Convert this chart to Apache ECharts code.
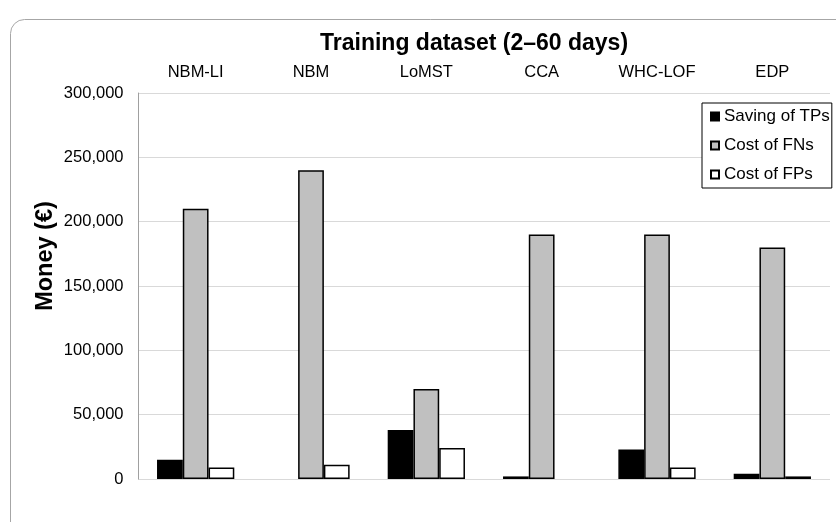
<!DOCTYPE html>
<html>
<head>
<meta charset="utf-8">
<script src="https://cdn.jsdelivr.net/npm/echarts@6/dist/echarts.min.js"></script>
<style>
html,body{margin:0;padding:0;background:#fff;}
#c{width:836px;height:522px;}
</style>
</head>
<body>
<div id="c"></div>
<script>
var categories = ['NBM-LI', 'NBM', 'LoMST', 'CCA', 'WHC-LOF', 'EDP'];
var savingTPs = [15000, 0, 38000, 2000, 23000, 4000];
var costFNs = [210000, 240000, 70000, 190000, 190000, 180000];
var costFPs = [9000, 11000, 24000, 0, 9000, 2000];
var yTicks = [0, 50000, 100000, 150000, 200000, 250000, 300000];

var chart = echarts.init(document.getElementById('c'));
var font = 'Liberation Sans, Arial, sans-serif';
function fmt(v){ return v.toString().replace(/\B(?=(\d{3})+(?!\d))/g, ','); }
function bar(name, data, color){
  return {
    name: name, type: 'bar',
    data: data.map(function(v){ return v === 0 ? {value: 0, itemStyle: {borderWidth: 0}} : v; }),
    barGap: '0%', barCategoryGap: '33%',
    itemStyle: {color: color, borderColor: '#000', borderWidth: 1.5},
    emphasis: {disabled: true}
  };
}
chart.setOption({
  animation: false,
  textStyle: {fontFamily: font},
  graphic: [{
    type: 'rect', left: 8, top: 17,
    shape: {width: 850, height: 530, r: 14},
    style: {fill: 'none', stroke: '#a6a6a6', lineWidth: 1}, silent: true, z: -1
  }],
  title: {
    text: 'Training dataset (2\u201360 days)',
    left: 315, top: 27,
    textStyle: {fontSize: 23, fontWeight: 'bold', color: '#000', fontFamily: font}
  },
  legend: {
    orient: 'vertical', left: 702, top: 103,
    backgroundColor: '#fff',
    borderColor: '#000', borderWidth: 1,
    padding: [5, 2, 5, 8],
    itemWidth: 8, itemHeight: 8, itemGap: 12,
    icon: 'rect',
    textStyle: {fontSize: 17, color: '#000', fontFamily: font},
    data: ['Saving of TPs', 'Cost of FNs', 'Cost of FPs']
  },
  grid: {left: 138, right: 6, top: 93, bottom: 43, containLabel: false},
  xAxis: {
    type: 'category', data: categories, position: 'top',
    axisLine: {show: false}, axisTick: {show: false},
    axisLabel: {fontSize: 16.5, color: '#000', margin: 12, fontFamily: font}
  },
  yAxis: {
    type: 'value', min: 0, max: 300000, interval: 50000,
    name: 'Money (\u20ac)', nameLocation: 'middle', nameGap: 80, nameRotate: 90,
    nameMoveOverlap: false,
    nameTextStyle: {fontSize: 23.5, fontWeight: 'bold', color: '#000', fontFamily: font,
      padding: [0, 0, 0, 60]},
    axisLine: {show: true, lineStyle: {color: '#a0a0a0', width: 1}},
    axisTick: {show: false},
    axisLabel: {fontSize: 16.5, color: '#000', margin: 14.5, fontFamily: font,
      formatter: function(v){ return yTicks.indexOf(v) >= 0 ? fmt(v) : ''; }},
    splitLine: {lineStyle: {color: '#d9d9d9', width: 1}}
  },
  series: [
    bar('Saving of TPs', savingTPs, '#000000'),
    bar('Cost of FNs', costFNs, '#c0c0c0'),
    bar('Cost of FPs', costFPs, '#ffffff')
  ]
});
</script>
</body>
</html>
